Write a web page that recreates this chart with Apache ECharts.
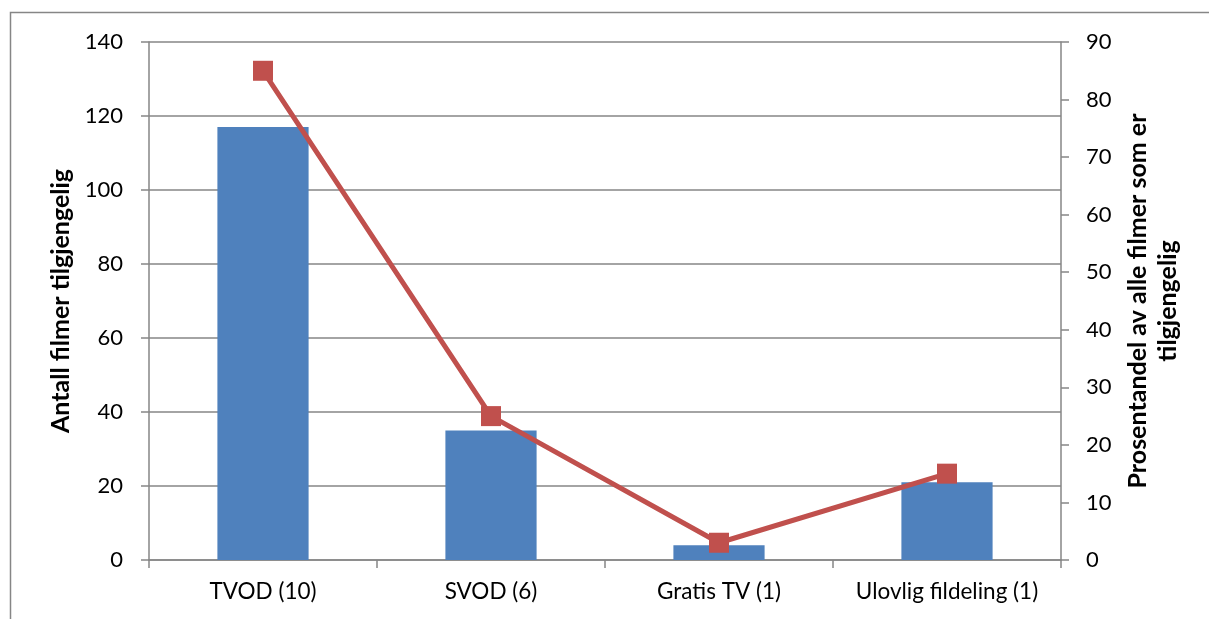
<!DOCTYPE html>
<html>
<head>
<meta charset="utf-8">
<script src="https://cdn.jsdelivr.net/npm/echarts@6/dist/echarts.min.js"></script>
<style>
  html, body { margin: 0; padding: 0; background: #fff; }
  #chart { width: 1209px; height: 619px; }
</style>
</head>
<body>
<div id="chart"></div>
<script>
// Distribution channels and how many films are available on each
const categories = ['TVOD (10)', 'SVOD (6)', 'Gratis TV (1)', 'Ulovlig fildeling (1)'];
const antallFilmer = [117, 35, 4, 21];          // left axis: number of films
const prosentandel = [85, 25, 3, 15];           // right axis: share of all films (%)

const leftTicks = { min: 0, max: 140, interval: 20 };
const rightTicks = { min: 0, max: 90, interval: 10 };

const FONT = 'Lato, "Open Sans", sans-serif';
const GREY = '#868686';

const chart = echarts.init(document.getElementById('chart'), null, { renderer: 'canvas' });

chart.setOption({
  animation: false,
  backgroundColor: '#ffffff',
  textStyle: { fontFamily: FONT },
  graphic: [{
    type: 'rect',
    shape: { x: 10.5, y: 12.5, width: 1220, height: 640 },
    style: { fill: 'none', stroke: GREY, lineWidth: 1.5 },
    silent: true
  }],
  grid: { left: 149, right: 148, top: 42, bottom: 59 },
  xAxis: {
    type: 'category',
    data: categories,
    boundaryGap: true,
    axisLine: { lineStyle: { color: GREY, width: 1.5 } },
    axisTick: { show: true, interval: 0, length: 8, lineStyle: { color: GREY, width: 1.5 } },
    axisLabel: { color: '#000', fontSize: 22.5, fontFamily: FONT, margin: 20, interval: 0, hideOverlap: false }
  },
  yAxis: [{
    type: 'value',
    position: 'left',
    min: leftTicks.min, max: leftTicks.max, interval: leftTicks.interval,
    name: 'Antall filmer tilgjengelig',
    nameLocation: 'middle',
    nameRotate: 90,
    nameGap: 70,
    nameTextStyle: { color: '#000', fontSize: 25, fontWeight: 'bold', fontFamily: FONT },
    axisLine: { show: true, lineStyle: { color: GREY, width: 1.5 } },
    axisTick: { show: true, length: 8, lineStyle: { color: GREY, width: 1.5 } },
    axisLabel: { color: '#000', fontSize: 22, fontFamily: FONT, margin: 26 },
    splitLine: { show: true, lineStyle: { color: GREY, width: 1.5 } }
  }, {
    type: 'value',
    position: 'right',
    min: rightTicks.min, max: rightTicks.max, interval: rightTicks.interval,
    name: 'Prosentandel av alle filmer som er\ntilgjengelig',
    nameLocation: 'middle',
    nameRotate: 90,
    nameGap: 62,
    nameTextStyle: { color: '#000', fontSize: 25, fontWeight: 'bold', fontFamily: FONT, lineHeight: 30, align: 'center' },
    axisLine: { show: true, lineStyle: { color: GREY, width: 1.5 } },
    axisTick: { show: true, length: 8, lineStyle: { color: GREY, width: 1.5 } },
    axisLabel: { color: '#000', fontSize: 22, fontFamily: FONT, margin: 25 },
    splitLine: { show: false }
  }],
  series: [{
    name: 'Antall filmer tilgjengelig',
    type: 'bar',
    yAxisIndex: 0,
    data: antallFilmer,
    barWidth: '40%',
    itemStyle: { color: '#4F81BD' }
  }, {
    name: 'Prosentandel',
    type: 'line',
    yAxisIndex: 1,
    data: prosentandel,
    symbol: 'rect',
    symbolSize: 20,
    lineStyle: { color: '#C0504D', width: 5 },
    itemStyle: { color: '#C0504D' }
  }]
});
</script>
</body>
</html>
